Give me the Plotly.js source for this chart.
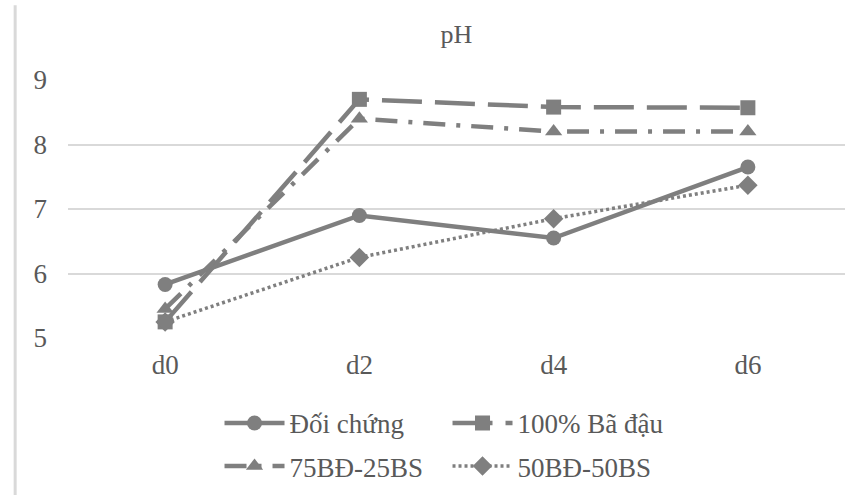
<!DOCTYPE html>
<html>
<head>
<meta charset="utf-8">
<script src="https://cdn.plot.ly/plotly-3.0.1.min.js"></script>
<style>html,body{margin:0;padding:0;background:#fff;}</style>
</head>
<body>
<div id="chart" style="width:859px;height:495px;"></div>
<script>
var categories = ["d0", "d2", "d4", "d6"];
var doiChung = [5.83, 6.9, 6.55, 7.65];
var baDau100 = [5.25, 8.7, 8.58, 8.57];
var bd75bs25 = [5.45, 8.4, 8.2, 8.2];
var bd50bs50 = [5.25, 6.25, 6.85, 7.37];
var seriesNames = ["Đối chứng", "100% Bã đậu", "75BĐ-25BS", "50BĐ-50BS"];

var grey = "#7f7f7f";
var FONT = "Liberation Serif";
var traces = [
  {x: categories, y: doiChung, name: seriesNames[0], mode: "lines+markers", legend: "legend",
   line: {color: grey, width: 4.5, dash: "solid"}, marker: {symbol: "circle", size: 15, color: grey}},
  {x: categories, y: baDau100, name: seriesNames[1], mode: "lines+markers", legend: "legend",
   line: {color: grey, width: 4.5, dash: "40px,13px"}, marker: {symbol: "square", size: 15, color: grey}},
  {x: categories, y: bd75bs25, name: seriesNames[2], mode: "lines+markers", legend: "legend2",
   line: {color: grey, width: 4.5, dash: "22px,11px,4px,11px"}, marker: {symbol: "triangle-up", size: 15, color: grey}},
  {x: categories, y: bd50bs50, name: seriesNames[3], mode: "lines+markers", legend: "legend2",
   line: {color: grey, width: 3.5, dash: "3px,3px"}, marker: {symbol: "diamond", size: 15, color: grey}}
];

var legendBase = {orientation: "h", xanchor: "left", yanchor: "top",
  entrywidth: 153, entrywidthmode: "pixels", font: {family: FONT, size: 27, color: "#595959"},
  itemwidth: 60, bgcolor: "rgba(0,0,0,0)"};

var layout = {
  width: 859, height: 495,
  margin: {l: 68, r: 14, t: 80, b: 157, autoexpand: false},
  paper_bgcolor: "#fff", plot_bgcolor: "#fff",
  font: {family: FONT, color: "#595959", size: 27},
  title: {text: "pH", x: 0.5, xref: "paper", y: 1, yref: "container", yanchor: "top", pad: {t: 25},
          font: {family: FONT, size: 26, color: "#595959"}},
  xaxis: {type: "category", range: [-0.5, 3.5], showgrid: false, zeroline: false, showline: false,
          ticks: "", tickfont: {family: FONT, size: 27}, ticklabelstandoff: 8, fixedrange: true},
  yaxis: {range: [5, 9], dtick: 1, showgrid: true, gridcolor: "#d9d9d9", gridwidth: 2,
          zeroline: false, showline: false, ticks: "", tickfont: {family: FONT, size: 27},
          ticklabelstandoff: 20, fixedrange: true},
  showlegend: true,
  legend: Object.assign({}, legendBase, {x: 0.195, y: -0.236}),
  legend2: Object.assign({}, legendBase, {x: 0.195, y: -0.403}),
  shapes: [
    {type: "line", xref: "paper", yref: "paper", x0: -0.068, x1: -0.068, y0: -0.62, y1: 1.29,
     line: {color: "#d9d9d9", width: 3}}
  ]
};
Plotly.newPlot("chart", traces, layout, {displayModeBar: false, staticPlot: true});
</script>
</body>
</html>
